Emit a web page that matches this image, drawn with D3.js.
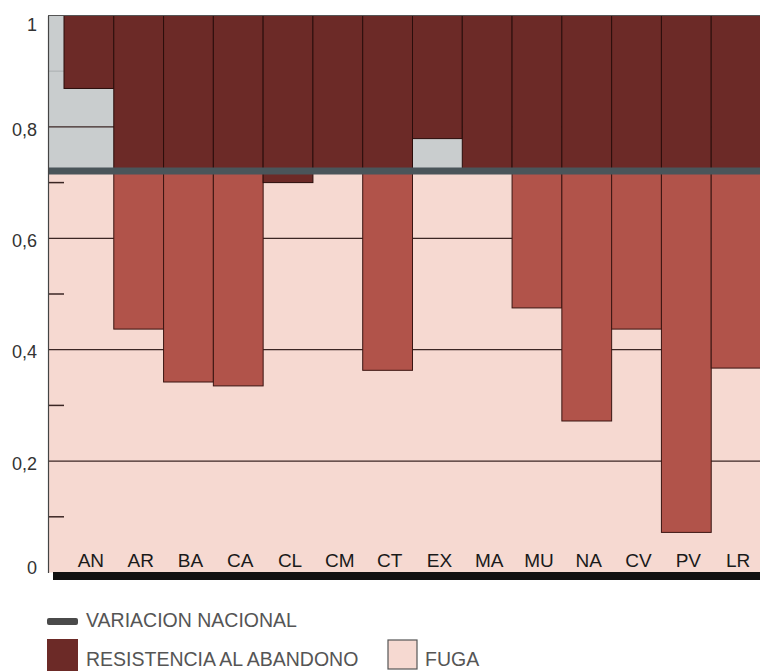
<!DOCTYPE html>
<html>
<head>
<meta charset="utf-8">
<script src="https://cdn.jsdelivr.net/npm/d3@7"></script>
<style>
  body { margin: 0; background: #fff; }
  svg { display: block; font-family: 'Liberation Sans', Arial, sans-serif; }
</style>
</head>
<body>
<div id="chart"></div>
<script>
// Data
const regiones = ['AN', 'AR', 'BA', 'CA', 'CL', 'CM', 'CT', 'EX', 'MA', 'MU', 'NA', 'CV', 'PV', 'LR'];
// resistencia al abandono: bar hangs from 1 down to this value
const resistencia = [0.869, 0.72, 0.72, 0.72, 0.70, 0.72, 0.72, 0.779, 0.72, 0.72, 0.72, 0.72, 0.72, 0.72];
// fuga: bar hangs from the national line down to this value (null = no bar)
const fuga = [null, 0.437, 0.342, 0.335, null, null, 0.363, null, null, 0.475, 0.272, 0.437, 0.072, 0.367];
const nacional = 0.721;
const majorTicks = [0, 0.2, 0.4, 0.6, 0.8, 1];
const minorTicks = [0.1, 0.3, 0.5, 0.7, 0.9];

const svgWidth = 760, svgHeight = 671;
const colors = {
  dark: '#6c2a27',
  mid: '#b1534a',
  pink: '#f6d9d1',
  gray: '#c9cdce',
  line: '#4a555a',
  edge: '#3a1512'
};

const svg = d3.select('#chart')
  .append('svg')
  .attr('width', svgWidth)
  .attr('height', svgHeight);

// Scales
const x = d3.scaleBand().domain(regiones).range([64, 761]).padding(0);
const y = d3.scaleLinear().domain([0, 1]).range([572.5, 15.5]);
const left = 48, right = 762;

// Backgrounds
svg.append('rect')
  .attr('x', left).attr('y', y(1))
  .attr('width', right - left).attr('height', y(nacional) - y(1))
  .attr('fill', colors.gray);
svg.append('rect')
  .attr('x', left).attr('y', y(nacional))
  .attr('width', right - left).attr('height', y(0) - y(nacional))
  .attr('fill', colors.pink);

// Grid lines
svg.append('g')
  .selectAll('line')
  .data(majorTicks.filter(d => d > 0 && d < 1))
  .join('line')
  .attr('x1', left).attr('x2', right)
  .attr('y1', d => y(d)).attr('y2', d => y(d))
  .attr('stroke', '#3b2624')
  .attr('stroke-width', 1.2);

// Minor ticks
svg.append('g')
  .selectAll('line')
  .data(minorTicks)
  .join('line')
  .attr('x1', left).attr('x2', 64)
  .attr('y1', d => y(d)).attr('y2', d => y(d))
  .attr('stroke', d => d > nacional ? '#b5b9ba' : '#3b2624')
  .attr('stroke-width', 1.5);

// Fuga bars
svg.append('g')
  .selectAll('rect')
  .data(regiones.map((r, i) => ({ r, v: fuga[i] })).filter(d => d.v !== null))
  .join('rect')
  .attr('x', d => x(d.r))
  .attr('y', y(nacional))
  .attr('width', x.bandwidth())
  .attr('height', d => y(d.v) - y(nacional))
  .attr('fill', colors.mid)
  .attr('stroke', colors.edge)
  .attr('stroke-width', 1);

// Resistencia bars
svg.append('g')
  .selectAll('rect')
  .data(regiones.map((r, i) => ({ r, v: resistencia[i] })))
  .join('rect')
  .attr('x', d => x(d.r))
  .attr('y', y(1))
  .attr('width', x.bandwidth())
  .attr('height', d => y(d.v) - y(1))
  .attr('fill', colors.dark)
  .attr('stroke', '#2a0d0b')
  .attr('stroke-width', 1);

// National line
svg.append('line')
  .attr('x1', left).attr('x2', right)
  .attr('y1', y(nacional)).attr('y2', y(nacional))
  .attr('stroke', colors.line)
  .attr('stroke-width', 7);

// Top line
svg.append('line')
  .attr('x1', left).attr('x2', right)
  .attr('y1', y(1)).attr('y2', y(1))
  .attr('stroke', '#555')
  .attr('stroke-width', 1);

// Y axis
const yAxis = d3.axisLeft(y)
  .tickValues(majorTicks)
  .tickSize(0)
  .tickPadding(11)
  .tickFormat(d => d === 0 || d === 1 ? d3.format('d')(d) : d3.format('.1f')(d).replace('.', ','));

const gy = svg.append('g')
  .attr('transform', `translate(${left}, 0)`)
  .call(yAxis);
gy.select('.domain').attr('stroke', '#444').attr('stroke-width', 1.2);
gy.selectAll('text')
  .style('font-size', '18px')
  .attr('fill', '#333')
  .attr('dy', d => d === 1 ? '0.85em' : d === 0 ? '0.05em' : '0.45em');

// X axis (thick base line + labels)
const xAxis = d3.axisBottom(x).tickSize(0).tickPadding(0);
const gx = svg.append('g')
  .attr('transform', `translate(0, ${y(0)})`)
  .call(xAxis);
gx.select('.domain').remove();
gx.append('line')
  .attr('x1', 53).attr('x2', right)
  .attr('y1', 3.5).attr('y2', 3.5)
  .attr('stroke', '#111')
  .attr('stroke-width', 8);
gx.selectAll('.tick text')
  .attr('y', -6)
  .attr('dy', 0)
  .attr('dx', 2)
  .style('font-size', '19px')
  .attr('fill', '#1a1a1a');

// Legend
const legend = svg.append('g').style('font-size', '19.5px').attr('fill', '#555');

legend.append('rect')
  .attr('x', 47).attr('y', 618)
  .attr('width', 31).attr('height', 7)
  .attr('rx', 2)
  .attr('fill', '#4a4a4a');
legend.append('text').attr('x', 86).attr('y', 627).text('VARIACION NACIONAL');

legend.append('rect')
  .attr('x', 47).attr('y', 639)
  .attr('width', 31).attr('height', 32)
  .attr('fill', colors.dark);
legend.append('text').attr('x', 86).attr('y', 666).text('RESISTENCIA AL ABANDONO');

legend.append('rect')
  .attr('x', 388).attr('y', 640)
  .attr('width', 29).attr('height', 29)
  .attr('fill', colors.pink)
  .attr('stroke', '#555')
  .attr('stroke-width', 1.2);
legend.append('text').attr('x', 425).attr('y', 666).text('FUGA');
</script>
</body>
</html>
